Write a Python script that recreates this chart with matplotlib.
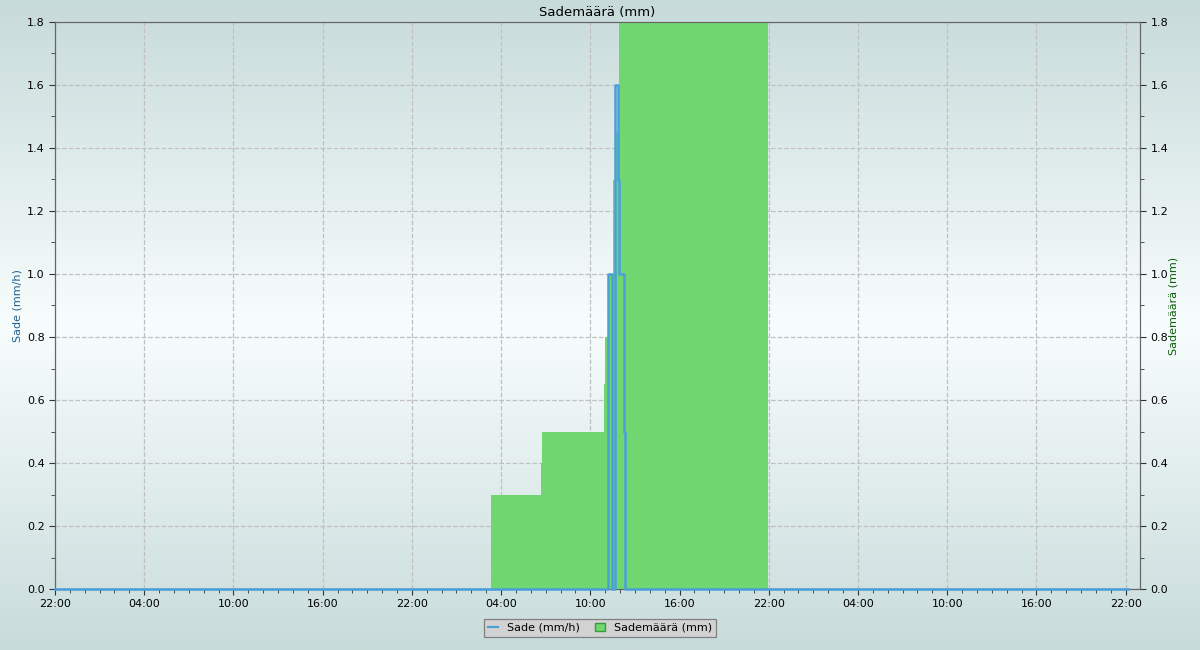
"""
Sademäärä (mm) chart: hourly rain rate line and cumulative rain steps.
"""

import matplotlib
matplotlib.use("Agg")
import matplotlib.pyplot as plt
import matplotlib.dates as mdates
import numpy as np
import pandas as pd
from matplotlib.colors import LinearSegmentedColormap
from matplotlib.lines import Line2D
from matplotlib.patches import Patch

# window shown on the x axis
x_start = "2024-05-01 22:00"
x_end = "2024-05-04 22:58"

# Sade (mm/h), stepwise values valid from each timestamp
sade_times = [
    "2024-05-01 22:00", "2024-05-03 11:13", "2024-05-03 11:28",
    "2024-05-03 11:41", "2024-05-03 11:51", "2024-05-03 11:57",
    "2024-05-03 12:16", "2024-05-03 12:19", "2024-05-04 22:08",
]
sade_values = [0.0, 1.0, 0.0, 1.6, 1.3, 1.0, 0.5, 0.0, 0.0]

# Sademäärä (mm), cumulative amount, stepwise
summa_times = [
    "2024-05-03 03:19", "2024-05-03 06:40", "2024-05-03 06:46",
    "2024-05-03 10:55", "2024-05-03 11:01", "2024-05-03 11:11",
    "2024-05-03 11:32", "2024-05-03 11:39", "2024-05-03 11:55",
    "2024-05-03 21:56",
]
summa_values = [0.3, 0.4, 0.5, 0.65, 0.8, 1.0, 1.3, 1.45, 1.8, 0.0]

y_ticks = [0.0, 0.2, 0.4, 0.6, 0.8, 1.0, 1.2, 1.4, 1.6, 1.8]

BLUE = "#4a9fdb"
GREEN = "#70d670"

fig = plt.figure(figsize=(12, 6.5), dpi=100)

# background gradient over whole figure
bg = fig.add_axes([0, 0, 1, 1], zorder=-10)
cmap = LinearSegmentedColormap.from_list(
    "bg", [(0.0, "#c7dbda"), (0.5, "#f8fdfd"), (1.0, "#c8dcdb")]
)
bg.imshow(np.linspace(0, 1, 256).reshape(-1, 1), aspect="auto", cmap=cmap,
          extent=[0, 1, 0, 1])
bg.axis("off")

ax = fig.add_axes([55 / 1200, 1 - 589 / 650, (1140 - 55) / 1200, (589 - 22) / 650])
ax2 = ax.twinx()
ax.patch.set_visible(False)
ax2.patch.set_visible(False)

t_sade = pd.to_datetime(sade_times)
t_summa = pd.to_datetime(summa_times)

# cumulative rain (bottom axes) over the grid
ax.fill_between(t_summa, 0, summa_values, step="post", color=GREEN,
                linewidth=0, zorder=3)
ax.grid(True, which="major", color="#c0c0c0", linestyle="--", linewidth=0.9)
ax.set_axisbelow(True)

# rain rate on top
ax2.step(t_sade, sade_values, where="post", color=BLUE, linewidth=1.8,
         clip_on=False, zorder=4)

for a in (ax, ax2):
    a.set_ylim(0, 1.8)
    a.set_yticks(y_ticks)
    a.set_yticks(np.arange(0.1, 1.8, 0.2), minor=True)
    a.yaxis.set_major_formatter(plt.FormatStrFormatter("%.1f"))
    a.tick_params(axis="both", which="major", labelsize=8, length=4,
                  color="#333333")
    a.tick_params(axis="both", which="minor", length=3, color="#333333")
    for s in a.spines.values():
        s.set_color("#666666")

ax.set_xlim(pd.Timestamp(x_start), pd.Timestamp(x_end))
ax.xaxis.set_major_locator(mdates.HourLocator(byhour=[4, 10, 16, 22]))
ax.xaxis.set_minor_locator(mdates.HourLocator(interval=1))
ax.xaxis.set_major_formatter(mdates.DateFormatter("%H:%M"))

ax.set_title("Sademäärä (mm)", fontsize=9.5, pad=4)
ax.set_ylabel("Sade (mm/h)", fontsize=8, color="#1f5f8f", labelpad=3)
ax2.set_ylabel("Sademäärä (mm)", fontsize=8, color="#0b5e0b", labelpad=0)

handles = [
    Line2D([0], [0], color=BLUE, linewidth=1.5),
    Patch(facecolor=GREEN, edgecolor="#3c9a3c"),
]
leg = fig.legend(handles, ["Sade (mm/h)", "Sademäärä (mm)"], loc="lower center",
                 bbox_to_anchor=(0.5, 0.012), ncol=2, fontsize=8, frameon=True,
                 fancybox=False, facecolor="#d2d2d2", edgecolor="#808080",
                 framealpha=1, handlelength=0.9, handleheight=0.7,
                 handletextpad=0.8, columnspacing=1.4, borderpad=0.35)
leg.get_frame().set_linewidth(0.9)

fig.savefig("out.png", dpi=100)
plt.close(fig)
